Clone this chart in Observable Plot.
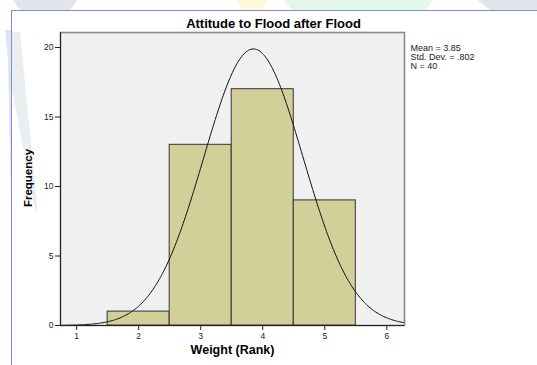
<!DOCTYPE html>
<html>
<head>
<meta charset="utf-8">
<script src="https://cdn.jsdelivr.net/npm/d3@7"></script>
<script src="https://cdn.jsdelivr.net/npm/@observablehq/plot@0.6"></script>
<style>
  html, body { margin: 0; padding: 0; background: #fff; }
  #wrap { position: relative; width: 537px; height: 365px; overflow: hidden; font-family: "Liberation Sans", Arial, sans-serif; }
  .wm { position: absolute; }
  #border { position: absolute; left: 11px; top: 10px; width: 540px; height: 370px; border-top: 1px solid #8585f5; border-left: 1px solid #8585f5; background: #fff; }
  #chart { position: absolute; left: 0; top: 0; }
  #ylab { position: absolute; left: 29px; top: 178px; transform: translate(-50%, -50%) rotate(-90deg); font-weight: bold; font-size: 11.5px; color: #000; white-space: nowrap; line-height: 1; }
</style>
</head>
<body>
<div id="wrap">
  <svg class="wm" width="537" height="365" style="left:0;top:0">
    <polygon points="13,0 77,0 70,10 20,10" fill="#dfe5ea"/>
    <polygon points="236,0 268,0 262,10 242,10" fill="#fff9dc"/>
    <polygon points="284,0 434,0 425,10 292,10" fill="#e3f8ec"/>
    <polygon points="478,0 537,0 537,10 490,10" fill="#dfe5ea"/>
    <polygon points="5,30 11,30 11,200 8,60" fill="#dfe5ea"/>
  </svg>
  <div id="border"></div>
  <svg class="wm" width="537" height="365" style="left:0;top:0">
    <polygon points="12,32 20,32 37,205 36,215 12,90" fill="#eaeef1"/>
  </svg>
  <div id="chart"></div>
  <div id="ylab"></div>
</div>
<script>
// Data
const binStart = [1.5, 2.5, 3.5, 4.5];
const binEnd   = [2.5, 3.5, 4.5, 5.5];
const frequency = [1, 13, 17, 9];
const xTicks = [1, 2, 3, 4, 5, 6];
const yTicks = [0, 5, 10, 15, 20];
const statLabels = ["Mean = 3.85", "Std. Dev. = .802", "N = 40"];
const mean = 3.85, sd = 0.802, n = 40, binWidth = 1;
const title = "Attitude to Flood after Flood";
const xLabel = "Weight (Rank)";
const yLabel = "Frequency";

const bars = binStart.map((s, i) => ({x1: s, x2: binEnd[i], y: frequency[i]}));

// Normal curve fitted with the reported mean, sd and N (as SPSS draws it)
const xDomain = [0.74, 6.285];
const curve = d3.range(0, 301).map(i => {
  const x = xDomain[0] + (xDomain[1] - xDomain[0]) * i / 300;
  const z = (x - mean) / sd;
  return {x, y: n * binWidth / (sd * Math.sqrt(2 * Math.PI)) * Math.exp(-0.5 * z * z)};
});

const chart = Plot.plot({
  width: 537,
  height: 365,
  marginLeft: 60,
  marginRight: 133,
  marginTop: 32,
  marginBottom: 40,
  style: {fontFamily: "'Liberation Sans', Arial, sans-serif", fontSize: "8.5px", background: "transparent", color: "#222"},
  x: {domain: xDomain},
  y: {domain: [0, 21.08]},
  marks: [
    Plot.frame({fill: "#f0f0f0", stroke: "#8a8a8a", strokeWidth: 1.6}),
    Plot.rect(bars, {x1: "x1", x2: "x2", y1: 0, y2: "y", fill: "#d3cf98", stroke: "#333", strokeWidth: 1}),
    Plot.line(curve, {x: "x", y: "y", stroke: "#111", strokeWidth: 1, clip: true}),
    Plot.ruleX([xDomain[0]], {stroke: "#222", strokeWidth: 1}),
    Plot.ruleY([0], {stroke: "#222", strokeWidth: 1}),
    Plot.axisX({ticks: xTicks, tickFormat: "d", tickSize: 5, tickPadding: 2, label: null, stroke: "#222", fill: "#222"}),
    Plot.axisY({ticks: yTicks, tickFormat: "d", tickSize: 5, tickPadding: 2, label: null, stroke: "#222", fill: "#222"}),
    Plot.text([title], {frameAnchor: "top", dy: -14, dx: 41, fontSize: 13, fontWeight: "bold", fill: "#000"}),
    Plot.text([xLabel], {frameAnchor: "bottom", dy: 28, fontSize: 12.5, fontWeight: "bold", fill: "#000"}),
    Plot.text([statLabels.join("\n")], {frameAnchor: "top-right", dx: 6, dy: 12, textAnchor: "start", lineAnchor: "top", fontSize: 9, lineHeight: 1.0, fill: "#222"})
  ]
});
document.getElementById("chart").appendChild(chart);
document.getElementById("ylab").textContent = yLabel;
</script>
</body>
</html>
